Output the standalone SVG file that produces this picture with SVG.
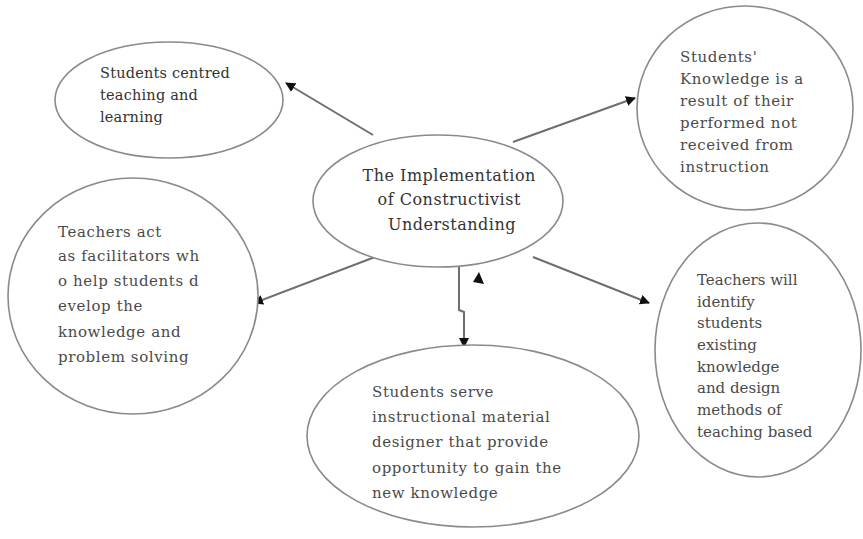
<svg xmlns="http://www.w3.org/2000/svg" width="863" height="539" viewBox="0 0 863 539">
  <defs>
    <marker id="tip" viewBox="0 0 10 10" refX="9" refY="5" markerWidth="5" markerHeight="5" orient="auto" markerUnits="strokeWidth">
      <path d="M0,0 L10,5 L0,10 z" fill="#111"/>
    </marker>
    <style>
      .node { fill: #fff; stroke: #8a8a8a; stroke-width: 1.6; }
      .lbl { font-family: "DejaVu Serif", "Liberation Serif", serif; font-size: 15px; letter-spacing: 0.6px; fill: #4a4a4a; }
      .dark { fill: #333; }
      .edge { fill: none; stroke: #6e6e6e; stroke-width: 2; marker-end: url(#tip); }
    </style>
  </defs>
  <rect width="863" height="539" fill="#fff"/>

  <g id="connectors">
    <line class="edge" x1="373" y1="135" x2="286" y2="83"/>
    <line class="edge" x1="513" y1="142" x2="635" y2="98"/>
    <line class="edge" x1="375" y1="257" x2="254" y2="303"/>
    <line class="edge" x1="533" y1="257" x2="649" y2="303"/>
    <polyline class="edge" points="459,267 459,310 464,312 464,347"/>
    <path d="M473,282 L479,272 L484,284 z" fill="#111"/>
  </g>

  <g id="n-centred">
    <ellipse class="node" cx="169" cy="100" rx="114" ry="58"/>
    <text class="lbl dark" style="font-size:14.5px;letter-spacing:0.2px">
      <tspan x="100" y="78">Students centred</tspan>
      <tspan x="100" y="100">teaching and</tspan>
      <tspan x="100" y="122">learning</tspan>
    </text>
  </g>

  <g id="n-knowledge">
    <ellipse class="node" cx="745" cy="108" rx="108" ry="102"/>
    <text class="lbl">
      <tspan x="680" y="62">Students'</tspan>
      <tspan x="680" y="84">Knowledge is a</tspan>
      <tspan x="680" y="106">result of their</tspan>
      <tspan x="680" y="128">performed not</tspan>
      <tspan x="680" y="150">received from</tspan>
      <tspan x="680" y="172">instruction</tspan>
    </text>
  </g>

  <g id="n-center">
    <ellipse class="node" cx="438" cy="201" rx="125" ry="66"/>
    <text class="lbl dark" text-anchor="middle" style="font-size:16px;letter-spacing:0.5px">
      <tspan x="452" y="181">The Implementation</tspan>
      <tspan x="452" y="205">of Constructivist</tspan>
      <tspan x="452" y="230">Understanding</tspan>
    </text>
  </g>

  <g id="n-facilitators">
    <ellipse class="node" cx="133" cy="296" rx="125" ry="118"/>
    <text class="lbl">
      <tspan x="58" y="237">Teachers act</tspan>
      <tspan x="58" y="261">as facilitators wh</tspan>
      <tspan x="58" y="286">o help students d</tspan>
      <tspan x="58" y="311">evelop the</tspan>
      <tspan x="58" y="337">knowledge and</tspan>
      <tspan x="58" y="362">problem solving</tspan>
    </text>
  </g>

  <g id="n-identify">
    <ellipse class="node" cx="758" cy="350" rx="103" ry="127"/>
    <text class="lbl" style="letter-spacing:0px">
      <tspan x="697" y="285">Teachers will</tspan>
      <tspan x="697" y="307">identify</tspan>
      <tspan x="697" y="328">students</tspan>
      <tspan x="697" y="350">existing</tspan>
      <tspan x="697" y="372">knowledge</tspan>
      <tspan x="697" y="393">and design</tspan>
      <tspan x="697" y="415">methods of</tspan>
      <tspan x="697" y="437">teaching based</tspan>
    </text>
  </g>

  <g id="n-designer">
    <ellipse class="node" cx="473" cy="436" rx="166" ry="91"/>
    <text class="lbl">
      <tspan x="372" y="397">Students serve</tspan>
      <tspan x="372" y="422">instructional material</tspan>
      <tspan x="372" y="447">designer that provide</tspan>
      <tspan x="372" y="473">opportunity to gain the</tspan>
      <tspan x="372" y="498">new knowledge</tspan>
    </text>
  </g>
</svg>
